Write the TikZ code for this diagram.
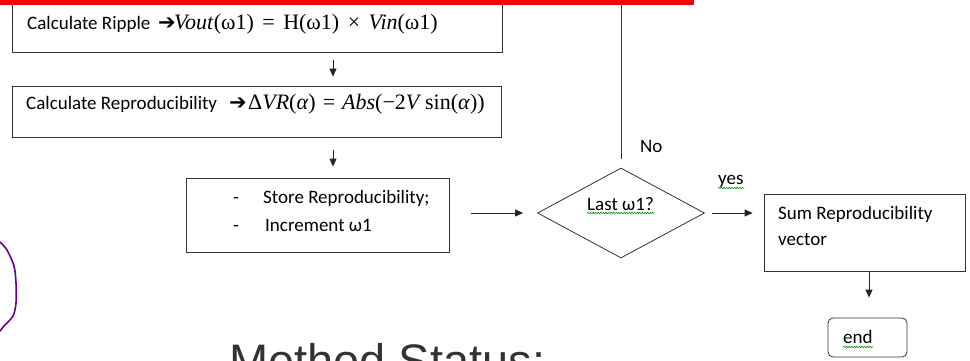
\documentclass[tikz,border=0pt]{standalone}
\usepackage{fontspec}
\setmainfont{Carlito}
\newfontfamily\ttlfont{Liberation Sans}
\newfontfamily\grsfont{Liberation Serif}
\newfontfamily\djvfont{DejaVu Sans}
\usetikzlibrary{arrows.meta,shapes.geometric,decorations.pathmorphing,calc}
\newcommand\myom{ω}
\newcommand\myarr{{\djvfont ➔}}
\newcommand\opsp{\hspace{8.5pt}}
\begin{document}
\begin{tikzpicture}[x=1pt,y=-1pt,
  box/.style={draw=black!80, line width=0.8pt, inner sep=0pt},
  txt/.style={anchor=base west, inner sep=0pt, font=\fontsize{19}{22}\selectfont},
  mth/.style={anchor=base west, inner sep=0pt, font=\grsfont\fontsize{22}{24}\selectfont},
  arr/.style={draw=black!85, line width=0.8pt, -{Triangle[length=8pt,width=7pt]}},
  squig/.style={draw=green!55!black, line width=0.6pt, decorate, decoration={snake,amplitude=0.7pt,segment length=2.6pt}},
  purp/.style={draw=violet!80!blue, line width=1.6pt, line cap=round}]
\useasboundingbox (0,0) rectangle (970,361);
\clip (0,0) rectangle (970,361);
% boxes
\node[box, minimum width=490pt, minimum height=72pt] (b1) at (257,16) {};
\node[box, minimum width=489pt, minimum height=51pt] (b2) at (256.5,111.5) {};
\node[box, minimum width=263pt, minimum height=74pt] (b3) at (317.5,215) {};
\node[box, diamond, minimum width=167pt, minimum height=90pt] (d) at (621,213) {};
\node[box, minimum width=201pt, minimum height=77pt] (b4) at (864.5,232.5) {};
\node[box, rounded corners=5pt, minimum width=79pt, minimum height=39pt] (e) at (867.5,337.5) {};
% texts
\node[txt] (t1) at (27,30) {Calculate Ripple};
\node[txt, font=\fontsize{21}{22}\selectfont] (t1a) at (158,30) {\myarr};
\node[mth] (t1m) at (174,30) {\textit{Vout}(ω1)\opsp=\opsp H(ω1)\opsp×\opsp\textit{Vin}(ω1)};
\node[txt] (t2) at (26,110) {Calculate Reproducibility};
\node[txt, font=\fontsize{21}{22}\selectfont] (t2a) at (229,110) {\myarr};
\node[mth] (t2m) at (248,110) {Δ\textit{VR}(\textit{α})\hspace{7pt}=\hspace{7pt}\textit{Abs}(−2\textit{V}\,sin(\textit{α}))};
\node[txt] (t3a) at (233,203) {-};
\node[txt] (t3b) at (263,203) {Store Reproducibility;};
\node[txt] (t3c) at (233,231) {-};
\node[txt] (t3d) at (265,231) {Increment \myom1};
\node[txt] (tl) at (587,210) {Last \myom1?};
\node[txt] (tno) at (640,153) {No};
\node[txt] (tyes) at (718,184) {yes};
\node[txt] (t4a) at (778,219) {Sum Reproducibility};
\node[txt] (t4b) at (778,245) {vector};
\node[txt] (te) at (843,343) {end};
% squiggles
\draw[squig] ($(tl.base west)+(0,3)$) -- ($(tl.base east)+(0,3)$);
\draw[squig] ($(tyes.base west)+(0,4)$) -- ($(tyes.base east)+(0,4)$);
\draw[squig] ($(te.base west)+(0,4)$) -- ($(te.base east)+(0,4)$);
% connectors
\coordinate (ax) at (333,0);
\coordinate (ex) at (869,0);
\coordinate (top) at (621,-20);
\draw[arr, shorten <=8pt, shorten >=9pt] (b1.south -| ax) -- (b2.north -| ax);
\draw[arr, shorten <=13pt, shorten >=11pt] (b2.south -| ax) -- (b3.north -| ax);
\draw[arr, shorten <=22pt, shorten >=14pt] (b3.east |- d.west) -- (d.west);
\draw[arr, shorten <=7pt, shorten >=11pt] (d.east) -- (b4.west |- d.east);
\draw[arr, shorten >=20pt] (b4.south -| ex) -- (e.north -| ex);
\draw[draw=black!80, line width=0.8pt, shorten <=9pt] (d.north) -- (top);
% red bar
\fill[red] (0,0) rectangle (694,5);
% purple stroke
\draw[purp] plot[smooth] coordinates {(0,242) (7,250) (14,266) (16,283) (16,303) (13,316) (4,326) (0,331)};
% title
\node[anchor=base west, inner sep=0pt, font=\ttlfont\fontsize{47}{50}\selectfont, text=black!80] (ms) at (229,377) {Method Status:};
\end{tikzpicture}
\end{document}
